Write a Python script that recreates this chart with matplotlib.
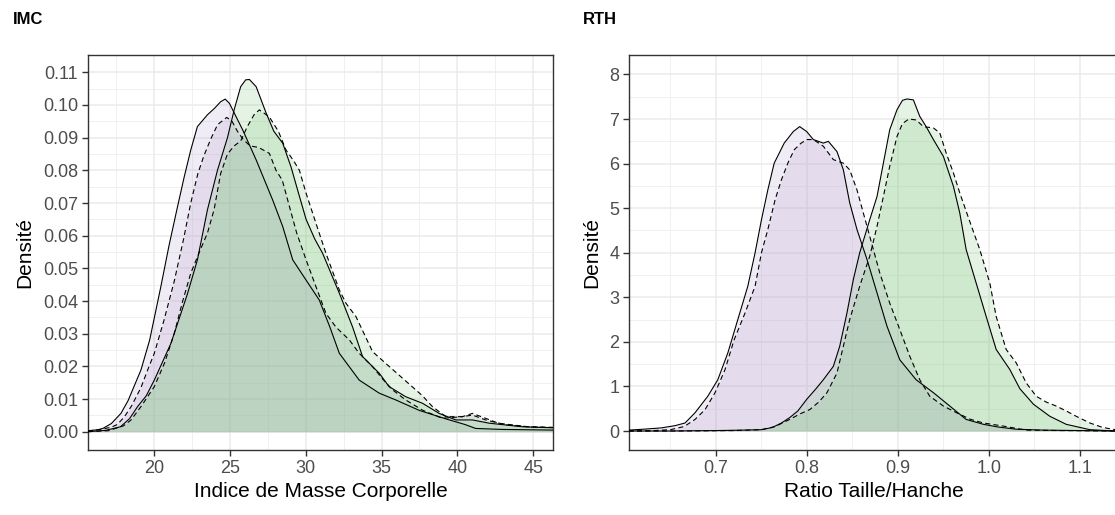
import numpy as np
import matplotlib.pyplot as plt
from matplotlib.ticker import FormatStrFormatter

plt.rcParams['font.family'] = ['Liberation Sans', 'DejaVu Sans']

## IMC panel: density curves
imc_a_x = [15.66, 16.3, 16.64, 17.2, 17.83, 18.3, 19.15, 19.72, 20.46, 21.0, 21.56, 22.0, 22.43, 22.87,
           23.53, 24.0, 24.4, 24.7, 24.98, 25.42, 25.86, 26.74, 27.83, 28.49, 29.15, 30.03, 30.9, 31.6,
           32.22, 33.53, 34.85, 35.95, 37.5, 39.33, 40.5, 41.2, 42.9, 44.5, 46.3]
imc_a_y = [0.0003, 0.0006, 0.0010, 0.0025, 0.0056, 0.0095, 0.0189, 0.028, 0.0444, 0.057, 0.0689, 0.078,
           0.0862, 0.0934, 0.097, 0.099, 0.101, 0.1018, 0.1005, 0.0964, 0.0923, 0.0832, 0.0709, 0.0628,
           0.0526, 0.0464, 0.0403, 0.032, 0.024, 0.0158, 0.0118, 0.0097, 0.0065, 0.0038, 0.0022, 0.0010,
           0.0007, 0.0006, 0.0005]

imc_b_x = [15.66, 16.5, 17.2, 17.59, 18.05, 18.53, 19.15, 19.6, 20.03, 20.66, 21.34, 21.96, 22.43, 22.9,
           23.3, 23.75, 24.2, 24.8, 25.15, 25.5, 25.86, 26.33, 26.9, 27.61, 28.05, 28.46, 28.93, 29.4,
           30.03, 30.68, 31.34, 32.0, 32.88, 33.53, 34.41, 35.1, 35.73, 36.6, 37.7, 39.0, 40.33, 40.99,
           41.86, 42.7, 44.7, 46.3]
imc_b_y = [0.0002, 0.0007, 0.0014, 0.0022, 0.0045, 0.0079, 0.0135, 0.019, 0.024, 0.034, 0.046, 0.059,
           0.070, 0.079, 0.0845, 0.0896, 0.094, 0.0962, 0.095, 0.092, 0.0896, 0.0875, 0.087, 0.0852, 0.080,
           0.077, 0.069, 0.061, 0.0526, 0.0444, 0.0362, 0.032, 0.0281, 0.024, 0.0199, 0.016, 0.0128, 0.0097,
           0.0066, 0.0041, 0.0046, 0.0056, 0.0041, 0.0026, 0.0015, 0.0013]

imc_c_x = [15.66, 16.8, 17.8, 18.4, 18.93, 19.5, 20.03, 21.12, 22.2, 22.87, 23.53, 24.19, 24.85, 25.29,
           25.72, 26.05, 26.3, 26.74, 27.4, 27.9, 28.49, 29.04, 29.47, 30.03, 30.6, 31.12, 32.22, 33.09,
           33.75, 34.85, 35.5, 36.6, 37.7, 38.8, 39.9, 40.99, 42.1, 44.3, 46.3]
imc_c_y = [0.0, 0.0004, 0.0015, 0.004, 0.0077, 0.011, 0.0158, 0.027, 0.042, 0.0526, 0.0679, 0.080, 0.090,
           0.0985, 0.1056, 0.1077, 0.1078, 0.1056, 0.0975, 0.092, 0.0883, 0.081, 0.074, 0.065, 0.059,
           0.0546, 0.0424, 0.0321, 0.023, 0.0179, 0.0138, 0.0107, 0.0087, 0.0056, 0.0036, 0.0036, 0.0026,
           0.0015, 0.0012]

imc_d_x = [15.66, 17.0, 18.0, 18.5, 19.2, 20.03, 20.7, 21.34, 21.9, 22.43, 23.0, 23.53, 23.97, 24.4,
           24.85, 25.3, 25.72, 26.16, 26.6, 26.95, 27.6, 28.2, 28.71, 29.2, 29.59, 30.03, 30.68, 31.34,
           32.22, 32.66, 33.32, 34.41, 35.5, 36.6, 37.7, 38.35, 39.24, 40.33, 40.99, 41.86, 43.2, 44.7, 46.3]
imc_d_y = [0.0, 0.0003, 0.0018, 0.0036, 0.008, 0.0138, 0.021, 0.030, 0.040, 0.0485, 0.055, 0.0608, 0.068,
           0.079, 0.085, 0.0875, 0.089, 0.0934, 0.097, 0.0985, 0.0964, 0.092, 0.0862, 0.083, 0.080, 0.073,
           0.0638, 0.0546, 0.0434, 0.0393, 0.0352, 0.0245, 0.020, 0.0155, 0.011, 0.0077, 0.0046, 0.0046,
           0.0051, 0.0036, 0.0021, 0.0015, 0.0013]

## RTH panel
rth_a_x = [0.604, 0.62, 0.64, 0.655, 0.666, 0.677, 0.691, 0.702, 0.713, 0.724, 0.735, 0.743, 0.75, 0.757,
           0.764, 0.775, 0.785, 0.792, 0.7997, 0.807, 0.818, 0.8235, 0.833, 0.84, 0.847, 0.855, 0.866,
           0.877, 0.888, 0.902, 0.92, 0.939, 0.957, 0.975, 0.994, 1.01, 1.03, 1.06, 1.1, 1.139]
rth_a_y = [0.02, 0.04, 0.07, 0.12, 0.18, 0.41, 0.78, 1.15, 1.75, 2.5, 3.25, 4.0, 4.74, 5.41, 6.01, 6.46,
           6.72, 6.83, 6.72, 6.54, 6.46, 6.5, 6.27, 5.86, 5.12, 4.52, 3.85, 3.1, 2.35, 1.6, 1.15, 0.86,
           0.56, 0.26, 0.15, 0.09, 0.04, 0.02, 0.01, 0.0]

rth_b_x = [0.604, 0.63, 0.65, 0.665, 0.677, 0.688, 0.699, 0.71, 0.72, 0.732, 0.743, 0.75, 0.757, 0.765,
           0.772, 0.779, 0.786, 0.793, 0.7997, 0.807, 0.818, 0.829, 0.84, 0.847, 0.855, 0.862, 0.869, 0.88,
           0.891, 0.902, 0.913, 0.924, 0.935, 0.95, 0.9645, 0.98, 0.994, 1.016, 1.041, 1.08, 1.139]
rth_b_y = [0.0, 0.01, 0.03, 0.1, 0.26, 0.48, 0.86, 1.38, 2.05, 2.65, 3.25, 4.0, 4.52, 5.19, 5.64, 6.01,
           6.31, 6.45, 6.54, 6.54, 6.39, 6.09, 6.01, 5.86, 5.41, 4.89, 4.37, 3.55, 2.87, 2.28, 1.68, 1.15,
           0.78, 0.56, 0.41, 0.26, 0.18, 0.11, 0.02, 0.01, 0.0]

rth_c_x = [0.604, 0.65, 0.7, 0.73, 0.75, 0.762, 0.772, 0.781, 0.79, 0.7997, 0.81, 0.818, 0.829, 0.836,
           0.844, 0.851, 0.858, 0.869, 0.877, 0.884, 0.891, 0.899, 0.905, 0.91, 0.917, 0.924, 0.931, 0.939,
           0.95, 0.961, 0.968, 0.975, 0.986, 0.997, 1.008, 1.023, 1.034, 1.049, 1.067, 1.085, 1.111, 1.139]
rth_c_y = [0.0, 0.0, 0.01, 0.02, 0.03, 0.08, 0.18, 0.3, 0.45, 0.71, 0.95, 1.15, 1.45, 1.9, 2.65, 3.4, 4.0,
           4.74, 5.26, 6.01, 6.76, 7.21, 7.42, 7.45, 7.43, 7.06, 6.83, 6.54, 6.16, 5.49, 4.89, 4.07, 3.32,
           2.57, 1.83, 1.38, 0.95, 0.6, 0.33, 0.15, 0.03, 0.0]

rth_d_x = [0.604, 0.66, 0.72, 0.75, 0.765, 0.781, 0.792, 0.803, 0.813, 0.822, 0.833, 0.84, 0.847, 0.858,
           0.869, 0.877, 0.884, 0.891, 0.899, 0.905, 0.912, 0.92, 0.928, 0.939, 0.946, 0.953, 0.961, 0.968,
           0.979, 0.99, 1.001, 1.008, 1.019, 1.03, 1.041, 1.052, 1.063, 1.074, 1.085, 1.096, 1.111, 1.125,
           1.139]
rth_d_y = [0.0, 0.0, 0.01, 0.03, 0.1, 0.26, 0.38, 0.48, 0.65, 0.86, 1.3, 1.9, 2.5, 3.25, 3.92, 4.59, 5.26,
           5.94, 6.61, 6.9, 7.0, 6.98, 6.83, 6.8, 6.69, 6.24, 5.79, 5.34, 4.7, 4.07, 3.32, 2.57, 1.83, 1.53,
           1.08, 0.78, 0.65, 0.56, 0.45, 0.33, 0.18, 0.08, 0.03]

purple = '#B4A0CD'
green = '#78C378'
fill_alpha = 0.2


def draw_panel(ax, curves, xlabel):
  for x, y, col, ls in curves:
    ax.fill_between(x, 0, y, color=col, alpha=fill_alpha, linewidth=0, zorder=2)
  for x, y, col, ls in curves:
    ax.plot(x, y, color='black', linestyle=ls, linewidth=0.8, zorder=3,
            dashes=(4.5, 3) if ls == '--' else (None, None))
  ax.set_facecolor('white')
  ax.grid(which='major', color='#EBEBEB', linewidth=1.1, zorder=0)
  ax.grid(which='minor', color='#F0F0F0', linewidth=0.7, zorder=0)
  ax.set_axisbelow(True)
  for s in ax.spines.values():
    s.set_color('#333333')
    s.set_linewidth(1.0)
  ax.tick_params(which='major', length=4, width=1.0, color='#333333', labelcolor='#4D4D4D',
                 labelsize=13, pad=3)
  ax.tick_params(which='minor', length=0)
  ax.set_xlabel(xlabel, fontsize=15, labelpad=4)
  ax.set_ylabel('Densité', fontsize=15, labelpad=6)


fig = plt.figure(figsize=(11.15, 5.15), dpi=100)

ax1 = fig.add_axes([88/1115, 65/515, 465/1115, 395/515])
draw_panel(ax1, [(imc_a_x, imc_a_y, purple, '-'), (imc_b_x, imc_b_y, purple, '--'),
                 (imc_c_x, imc_c_y, green, '-'), (imc_d_x, imc_d_y, green, '--')],
           'Indice de Masse Corporelle')
ax1.set_xlim(15.66, 46.3)
ax1.set_ylim(-0.0056, 0.1153)
ax1.set_xticks([20, 25, 30, 35, 40, 45])
ax1.set_xticks(np.arange(17.5, 46, 5), minor=True)
ax1.set_yticks(np.arange(0, 0.111, 0.01))
ax1.set_yticks(np.arange(0.005, 0.115, 0.01), minor=True)
ax1.yaxis.set_major_formatter(FormatStrFormatter('%.2f'))

ax2 = fig.add_axes([629/1115, 65/515, 490/1115, 395/515])
draw_panel(ax2, [(rth_a_x, rth_a_y, purple, '-'), (rth_b_x, rth_b_y, purple, '--'),
                 (rth_c_x, rth_c_y, green, '-'), (rth_d_x, rth_d_y, green, '--')],
           'Ratio Taille/Hanche')
ax2.set_xlim(0.6044, 1.143)
ax2.set_ylim(-0.426, 8.437)
ax2.set_xticks([0.7, 0.8, 0.9, 1.0, 1.1])
ax2.set_xticks([0.65, 0.75, 0.85, 0.95, 1.05], minor=True)
ax2.set_yticks(range(0, 9))
ax2.set_yticks(np.arange(0.5, 8.4, 1), minor=True)
ax2.xaxis.set_major_formatter(FormatStrFormatter('%.1f'))

fig.text(13/1115, 1 - 20/515, 'IMC', fontsize=12, fontweight='bold', va='center', ha='left')
fig.text(583/1115, 1 - 20/515, 'RTH', fontsize=12, fontweight='bold', va='center', ha='left')

fig.savefig('out.png', dpi=100)
